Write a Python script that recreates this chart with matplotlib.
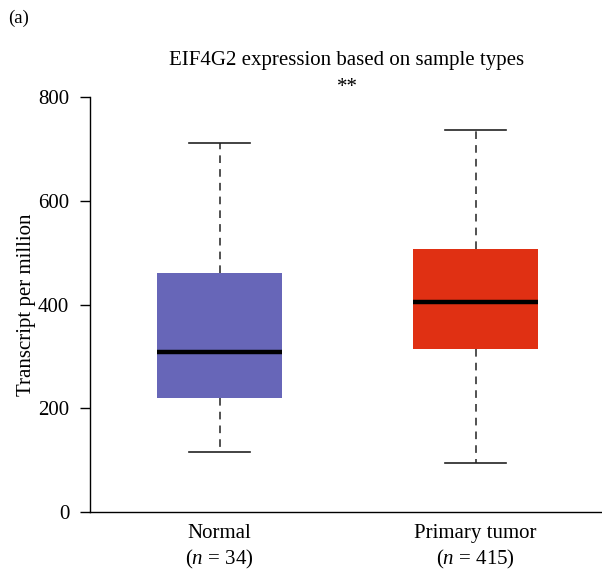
import matplotlib
matplotlib.use("Agg")
import matplotlib.pyplot as plt

plt.rcParams['font.family'] = 'Liberation Serif'
plt.rcParams['mathtext.fontset'] = 'custom'
plt.rcParams['mathtext.rm'] = 'Liberation Serif'
plt.rcParams['mathtext.it'] = 'Liberation Serif:italic'

# box statistics (TPM)
groups = ['Normal', 'Primary tumor']
counts = [34, 415]
whis_lo = [115, 94]
q1 = [220, 315]
medians = [309, 405]
q3 = [460, 507]
whis_hi = [712, 736]
colors = ['#6766B8', '#E03013']
yticks = [0, 200, 400, 600, 800]

FS = 15

fig = plt.figure(figsize=(6.02, 5.73), dpi=100)
ax = fig.add_axes([90 / 602, 61 / 573, 512 / 602, 415 / 573])

stats = []
for i, g in enumerate(groups):
    stats.append({'label': g, 'med': medians[i], 'q1': q1[i], 'q3': q3[i],
                  'whislo': whis_lo[i], 'whishi': whis_hi[i], 'fliers': []})

bp = ax.bxp(stats, positions=[1, 2], widths=0.49, patch_artist=True,
            showfliers=False,
            boxprops=dict(linewidth=0),
            medianprops=dict(color='black', linewidth=3.2, solid_capstyle='butt'),
            whiskerprops=dict(color='#222222', linewidth=1.1, linestyle=(0, (5, 4))),
            capprops=dict(color='#222222', linewidth=1.2),
            capwidths=0.24)
for patch, c in zip(bp['boxes'], colors):
    patch.set_facecolor(c)
    patch.set_edgecolor(c)

ax.set_xlim(0.494, 2.494)
ax.set_ylim(0, 800)
ax.set_yticks(yticks)
ax.tick_params(axis='y', labelsize=FS, length=7, width=1, direction='out', pad=8)
ax.tick_params(axis='x', length=0, labelbottom=False)
for s in ('top', 'right'):
    ax.spines[s].set_visible(False)
ax.spines['left'].set_linewidth(1)
ax.spines['bottom'].set_linewidth(1)
ax.set_ylabel('Transcript per million', fontsize=FS)
ax.yaxis.set_label_coords(-54 / 512, 0.5)

for i, (g, n) in enumerate(zip(groups, counts)):
    ax.text(i + 1, -41, g, ha='center', va='center', fontsize=FS, clip_on=False)
    ax.text(i + 1, -92, r'($\it{n}$ = %d)' % n, ha='center', va='center',
            fontsize=FS, clip_on=False)

ax.text(1.5, 818, '**', ha='center', va='center', fontsize=15)
fig.text(347 / 602, 1 - 60 / 573, 'EIF4G2 expression based on sample types',
         ha='center', va='center', fontsize=FS)
fig.text(8 / 602, 1 - 18 / 573, '(a)', ha='left', va='center', fontsize=13.5)

fig.savefig('out.png', dpi=100)
